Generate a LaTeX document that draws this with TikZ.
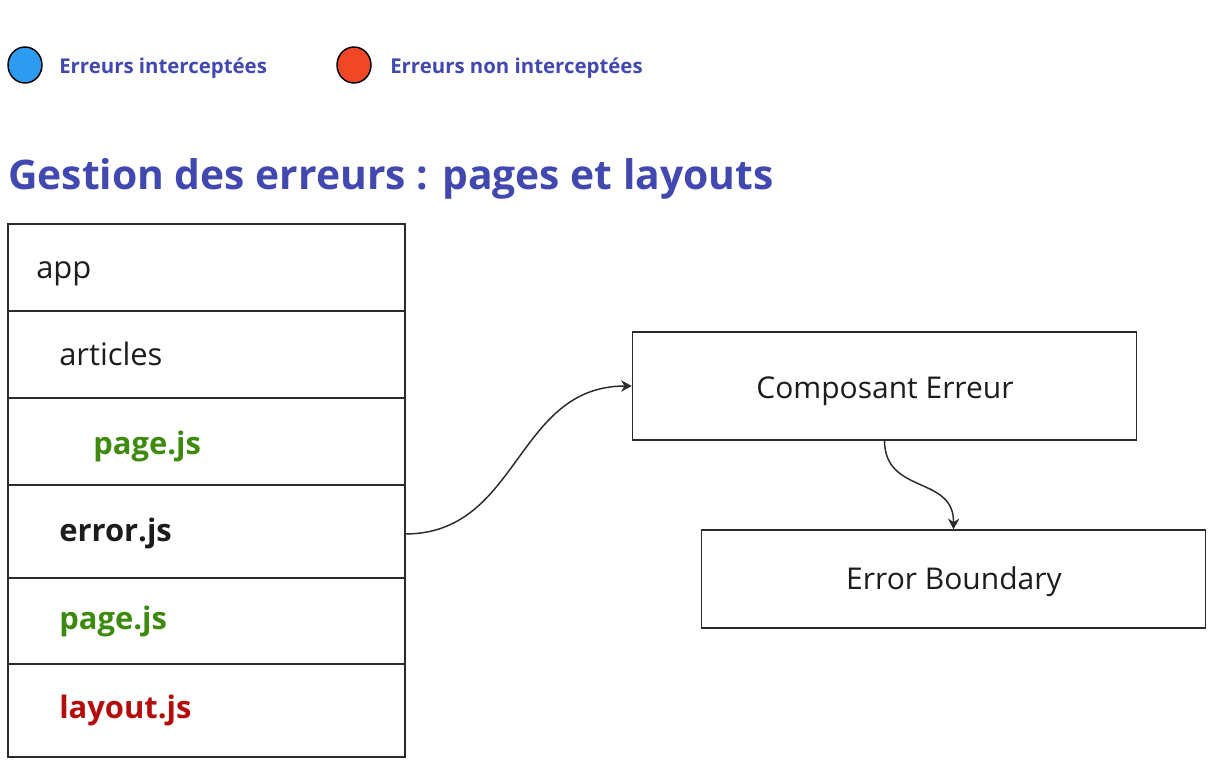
\documentclass[tikz,border=0pt]{standalone}
\usepackage{fontspec}
\setmainfont{Open Sans}
\usetikzlibrary{arrows.meta}
\definecolor{ttl}{HTML}{4148B0}
\definecolor{cblue}{HTML}{2D9BF0}
\definecolor{cred}{HTML}{F24726}
\definecolor{tgreen}{HTML}{3E8A0E}
\definecolor{tred}{HTML}{B50B0B}
\definecolor{ln}{HTML}{2B2B2B}
\definecolor{tblk}{HTML}{1C1C1C}
\tikzset{
  row/.style={draw=ln, line width=1.1pt},
  rowtext/.style={anchor=base west, inner sep=0pt, font=\fontsize{23.2}{27}\selectfont, text=tblk},
  rowbold/.style={rowtext, font=\bfseries\fontsize{23.2}{27}\selectfont},
  legtext/.style={anchor=base west, inner sep=0pt, font=\bfseries\fontsize{15.3}{18}\selectfont, text=ttl},
  bigbox/.style={draw=ln, line width=1.1pt, rectangle, inner sep=0pt},
  boxtext/.style={anchor=base, inner sep=0pt, font=\fontsize{22.5}{26}\selectfont, text=tblk},
  conn/.style={draw=ln, line width=1.1pt, -{Stealth[length=8pt,width=8.5pt]}}
}
\begin{document}
\begin{tikzpicture}[x=0.75pt,y=-0.75pt]
\useasboundingbox (0,0) rectangle (1218,774);
% legend
\filldraw[fill=cblue, draw=black, line width=1.1pt] (25,65) ellipse [x radius=17, y radius=18];
\node[legtext] (l1) at (59,73.5) {Erreurs interceptées};
\filldraw[fill=cred, draw=black, line width=1.1pt] (354,65) ellipse [x radius=17, y radius=18];
\node[legtext] (l2) at (390,73.5) {Erreurs non interceptées};
% title
\node[anchor=base west, inner sep=0pt, font=\bfseries\fontsize{30.6}{36}\selectfont, text=ttl] (title) at (8,189) {Gestion des erreurs : pages et layouts};
% stack
\draw[row] (8,224) rectangle (405,757);
\draw[row] (8,311) -- (405,311);
\draw[row] (8,398) -- (405,398);
\draw[row] (8,485) -- (405,485);
\draw[row] (8,578) -- (405,578);
\draw[row] (8,664) -- (405,664);
\node[rowtext] (app) at (36,278) {app};
\node[rowtext] (art) at (59,365) {articles};
\node[rowbold, text=tgreen] (p1) at (93,454) {page.js};
\node[rowbold] (err) at (59,541.5) {error.js};
\node[rowbold, text=tgreen] (p2) at (59,629.5) {page.js};
\node[rowbold, text=tred] (lay) at (59,718.5) {layout.js};
\coordinate (errR) at (405,534);
% boxes
\node[bigbox, minimum width=378pt, minimum height=81pt] (comp) at (884.5,386) {};
\node[boxtext] (compt) at (885,398) {Composant Erreur};
\node[bigbox, minimum width=378pt, minimum height=73.5pt] (eb) at (953.5,579) {};
\node[boxtext] (ebt) at (954,589) {Error Boundary};
% connectors
\draw[conn] (errR) .. controls (520,534) and (515,386) .. (comp.west);
\draw[conn] (comp.south) .. controls (885,495) and (954,475) .. (eb.north);
\end{tikzpicture}
\end{document}
